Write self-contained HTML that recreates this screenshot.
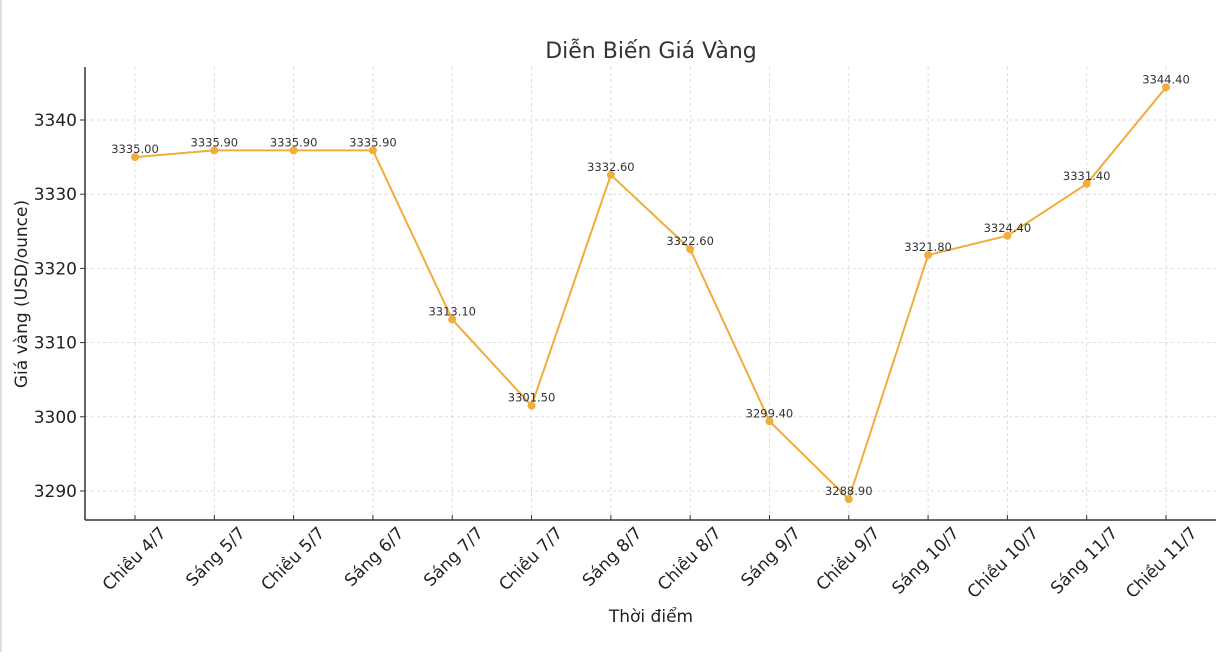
<!DOCTYPE html>
<html><head><meta charset="utf-8"><style>
html,body{margin:0;padding:0;background:#fff;}
body{width:1216px;height:652px;overflow:hidden;font-family:"DejaVu Sans","Liberation Sans",sans-serif;}
</style></head><body>
<svg id="chart" width="1216" height="652" xmlns="http://www.w3.org/2000/svg" font-family="DejaVu Sans, Liberation Sans, sans-serif">
<rect x="0" y="0" width="2" height="652" fill="#e0e0e0"/>
<text x="651" y="58" text-anchor="middle" font-size="22" fill="#333">Diễn Biến Giá Vàng</text>
<g id="grid"></g>
<g id="axes"></g>
<g id="series"></g>
<text x="651" y="622" text-anchor="middle" font-size="17" fill="#222">Thời điểm</text>
<text transform="translate(27,294) rotate(-90)" text-anchor="middle" font-size="17" fill="#222">Giá vàng (USD/ounce)</text>
</svg>
<script>
const categories=["Chiều 4/7","Sáng 5/7","Chiều 5/7","Sáng 6/7","Sáng 7/7","Chiều 7/7","Sáng 8/7","Chiều 8/7","Sáng 9/7","Chiều 9/7","Sáng 10/7","Chiều 10/7","Sáng 11/7","Chiều 11/7"];
const prices=[3335.00,3335.90,3335.90,3335.90,3313.10,3301.50,3332.60,3322.60,3299.40,3288.90,3321.80,3324.40,3331.40,3344.40];
const yTicks=[3290,3300,3310,3320,3330,3340];
const NS="http://www.w3.org/2000/svg";
const L=85,R=1216,T=67,B=520;
const xS=i=>135+i*(1166-135)/(categories.length-1);
const yS=v=>491-(v-3290)*(491-120)/50;
function mk(tag,attrs,parent,txt){const e=document.createElementNS(NS,tag);for(const k in attrs)e.setAttribute(k,attrs[k]);if(txt!==undefined)e.textContent=txt;parent.appendChild(e);return e;}
const grid=document.getElementById('grid'),axes=document.getElementById('axes'),ser=document.getElementById('series');
yTicks.forEach(v=>{const y=yS(v);
const g=mk('line',{x1:L,x2:R,y1:y,y2:y,stroke:'#d4d4d4','stroke-dasharray':'3,3','stroke-width':0.8},grid);

const t=mk('line',{x1:L-5,x2:L,y1:y,y2:y,stroke:'#333','stroke-width':1},axes);

const l=mk('text',{x:L-8,y:y+6,'text-anchor':'end','font-size':17,fill:'#222'},axes,String(v));
});
categories.forEach((c,i)=>{const x=xS(i);
const g=mk('line',{x1:x,x2:x,y1:T,y2:B,stroke:'#d4d4d4','stroke-dasharray':'3,3','stroke-width':0.8},grid);

const t=mk('line',{x1:x,x2:x,y1:B-5,y2:B,stroke:'#333','stroke-width':1},axes);

const l=mk('text',{transform:`translate(${x+32},${B+14}) rotate(-45)`,'text-anchor':'end','font-size':17,fill:'#222'},axes,c);
});
const sp1=mk('line',{x1:L,x2:L,y1:T,y2:B,stroke:'#333','stroke-width':1.5},axes);

const sp2=mk('line',{x1:L,x2:R,y1:B,y2:B,stroke:'#333','stroke-width':1.5},axes);

const pl=mk('polyline',{points:prices.map((v,i)=>xS(i)+','+yS(v)).join(' '),fill:'none',stroke:'#f0ad3c','stroke-width':2},ser);

prices.forEach((v,i)=>{const x=xS(i),y=yS(v);
const p=mk('circle',{cx:x,cy:y,r:4,fill:'#f0ad3c'},ser);

const t=mk('text',{x:x,y:y-4,'text-anchor':'middle','font-size':11.5,fill:'#333'},ser,v.toFixed(2));
});
</script>
</body></html>
